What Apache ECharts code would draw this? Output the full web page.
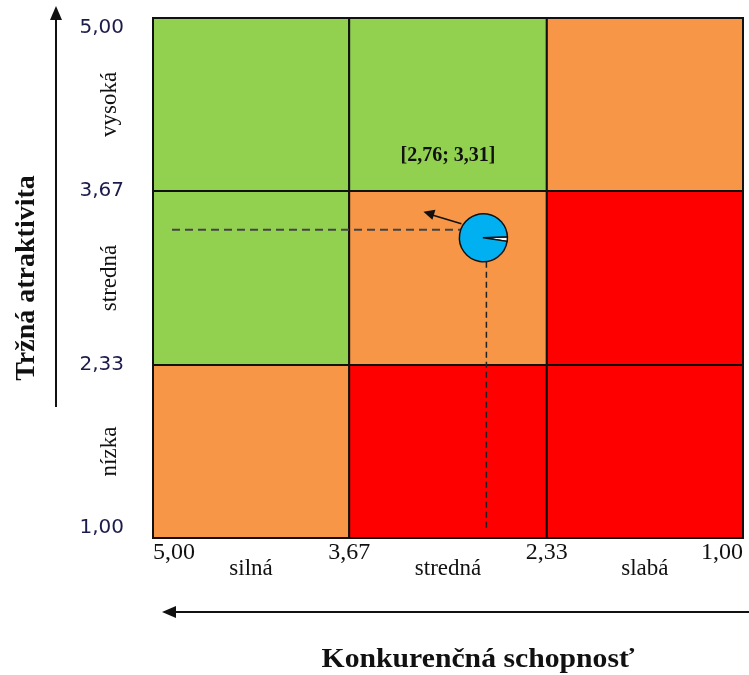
<!DOCTYPE html>
<html lang="sk">
<head>
    <meta charset="UTF-8">
    <title>Matica GE</title>
    <script type="text/javascript" src="https://cdn.jsdelivr.net/npm/echarts@6/dist/echarts.min.js"></script>
    <style type="text/css">
        html, body { margin: 0; padding: 0; background: #ffffff; }
        #main { width: 749px; height: 675px; }
    </style>
</head>
<body>
<div id="main"></div>
<script type="text/javascript">
    // hranice pasiem (konkurencna schopnost ide sprava dolava)
    var xBreaks = [5, 3.67, 2.33, 1];
    var yBreaks = [1, 2.33, 3.67, 5];
    var xBandNames = ['silná', 'stredná', 'slabá'];
    var yBandNames = ['nízka', 'stredná', 'vysoká'];
    // 0 = zelena, 1 = oranzova, 2 = cervena ; riadky odspodu
    var zones = [
        [1, 2, 2],
        [0, 1, 2],
        [0, 0, 1]
    ];
    var pointX = [2.76];
    var pointY = [3.31];
    var pieShare = [3, 97];

    var zoneColors = ['#92d050', '#f79646', '#ff0000'];
    var serif = '"Liberation Serif", "Times New Roman", serif';

    function fmt(v) {
        return v.toFixed(2).replace('.', ',');
    }

    var cells = [];
    for (var r = 0; r < 3; r++) {
        for (var c = 0; c < 3; c++) {
            cells.push([xBreaks[c], xBreaks[c + 1], yBreaks[r], yBreaks[r + 1], zones[r][c]]);
        }
    }

    var chart = echarts.init(document.getElementById('main'));
    chart.setOption({
        animation: false,
        grid: { left: 153, right: 6, top: 18, bottom: 137, containLabel: false, outerBoundsMode: 'none' },
        xAxis: {
            type: 'value', min: 1, max: 5, inverse: true,
            axisLine: { show: false }, axisTick: { show: false }, splitLine: { show: false },
            axisLabel: {
                customValues: xBreaks,
                formatter: function (v) { return fmt(v); },
                fontFamily: serif, fontSize: 24, color: '#111', margin: 3,
                alignMinLabel: 'left', alignMaxLabel: 'right'
            }
        },
        yAxis: {
            type: 'value', min: 1, max: 5,
            axisLine: { show: false }, axisTick: { show: false }, splitLine: { show: false },
            axisLabel: {
                customValues: yBreaks,
                formatter: function (v) { return fmt(v); },
                fontFamily: '"DejaVu Sans", Verdana, sans-serif', fontSize: 20, color: '#1c1c4c', margin: 29,
                verticalAlignMinLabel: 'bottom', verticalAlignMaxLabel: 'top'
            },
            name: 'Tržná atraktivita', nameLocation: 'middle', nameRotate: 90, nameGap: 112,
            nameTextStyle: { fontFamily: serif, fontSize: 28, fontWeight: 'bold', color: '#111' }
        },
        series: [
            {
                type: 'custom',
                z: 1,
                data: cells,
                renderItem: function (params, api) {
                    var p0 = api.coord([api.value(0), api.value(3)]);
                    var p1 = api.coord([api.value(1), api.value(2)]);
                    return {
                        type: 'rect',
                        shape: {
                            x: Math.min(p0[0], p1[0]), y: Math.min(p0[1], p1[1]),
                            width: Math.abs(p1[0] - p0[0]), height: Math.abs(p1[1] - p0[1])
                        },
                        style: { fill: zoneColors[api.value(4)], stroke: '#111', lineWidth: 2 }
                    };
                }
            }
        ]
    });

    // poloha bodu a popisy
    var pt = chart.convertToPixel({ gridIndex: 0 }, [pointX[0], pointY[0]]);
    var gLeft = chart.convertToPixel({ gridIndex: 0 }, [5, 1]);
    var midTop = chart.convertToPixel({ gridIndex: 0 }, [(xBreaks[1] + xBreaks[2]) / 2, yBreaks[2]]);
    var graphics = [];

    // pomocne ciarkovane ciary
    graphics.push({
        type: 'line', z: 3,
        shape: { x1: gLeft[0] + 19, y1: pt[1] - 8, x2: pt[0] - 22, y2: pt[1] - 8 },
        style: { stroke: '#444', lineWidth: 2, lineDash: [8, 5] }
    });
    graphics.push({
        type: 'line', z: 3,
        shape: { x1: pt[0] + 3, y1: pt[1] + 24, x2: pt[0] + 3, y2: gLeft[1] - 10 },
        style: { stroke: '#222', lineWidth: 1.5, lineDash: [6, 4] }
    });

    // sipka smeru
    var ax = pt[0] - 60, ay = pt[1] - 26;
    graphics.push({
        type: 'line', z: 4,
        shape: { x1: pt[0] - 22, y1: pt[1] - 14, x2: ax + 8, y2: ay + 3 },
        style: { stroke: '#111', lineWidth: 1.5 }
    });
    graphics.push({
        type: 'polygon', z: 4,
        shape: { points: [[ax, ay], [ax + 12, ay - 2], [ax + 9, ay + 8]] },
        style: { fill: '#111' }
    });

    graphics.push({
        type: 'text', z: 4,
        x: midTop[0], y: midTop[1] - 35,
        style: {
            text: '[' + fmt(pointX[0]) + '; ' + fmt(pointY[0]) + ']',
            font: 'bold 20px ' + serif, fill: '#111',
            align: 'center', verticalAlign: 'middle'
        }
    });

    // nazvy pasiem
    for (var i = 0; i < 3; i++) {
        var mx = chart.convertToPixel({ gridIndex: 0 }, [(xBreaks[i] + xBreaks[i + 1]) / 2, 1]);
        graphics.push({
            type: 'text', x: mx[0], y: mx[1] + 31,
            style: { text: xBandNames[i], font: '23px ' + serif, fill: '#111', align: 'center', verticalAlign: 'middle' }
        });
        var my = chart.convertToPixel({ gridIndex: 0 }, [5, (yBreaks[i] + yBreaks[i + 1]) / 2]);
        graphics.push({
            type: 'text', x: 110, y: my[1], rotation: Math.PI / 2,
            style: { text: yBandNames[i], font: '23px ' + serif, fill: '#111', align: 'center', verticalAlign: 'middle' }
        });
    }

    // osove sipky
    graphics.push({
        type: 'line', shape: { x1: 56, y1: 407, x2: 56, y2: 16 },
        style: { stroke: '#111', lineWidth: 2 }
    });
    graphics.push({
        type: 'polygon', shape: { points: [[56, 6], [50, 20], [62, 20]] },
        style: { fill: '#111' }
    });
    graphics.push({
        type: 'line', shape: { x1: 749, y1: 612, x2: 172, y2: 612 },
        style: { stroke: '#111', lineWidth: 2 }
    });
    graphics.push({
        type: 'polygon', shape: { points: [[162, 612], [176, 606], [176, 618]] },
        style: { fill: '#111' }
    });
    graphics.push({
        type: 'text', x: 478, y: 660, scaleX: 1.1,
        style: { text: 'Konkurenčná schopnosť', font: 'bold 27px ' + serif, fill: '#111', align: 'center', verticalAlign: 'middle' }
    });

    chart.setOption({
        graphic: graphics,
        series: [
            {},
            {
                type: 'pie', z: 10,
                center: pt, radius: 24,
                startAngle: 2, clockwise: true,
                label: { show: false }, labelLine: { show: false },
                emphasis: { disabled: true },
                itemStyle: { borderColor: '#111', borderWidth: 1.5 },
                data: [
                    { value: pieShare[0], itemStyle: { color: '#ffffff' } },
                    { value: pieShare[1], itemStyle: { color: '#00b0f0' } }
                ]
            }
        ]
    });
</script>
</body>
</html>
